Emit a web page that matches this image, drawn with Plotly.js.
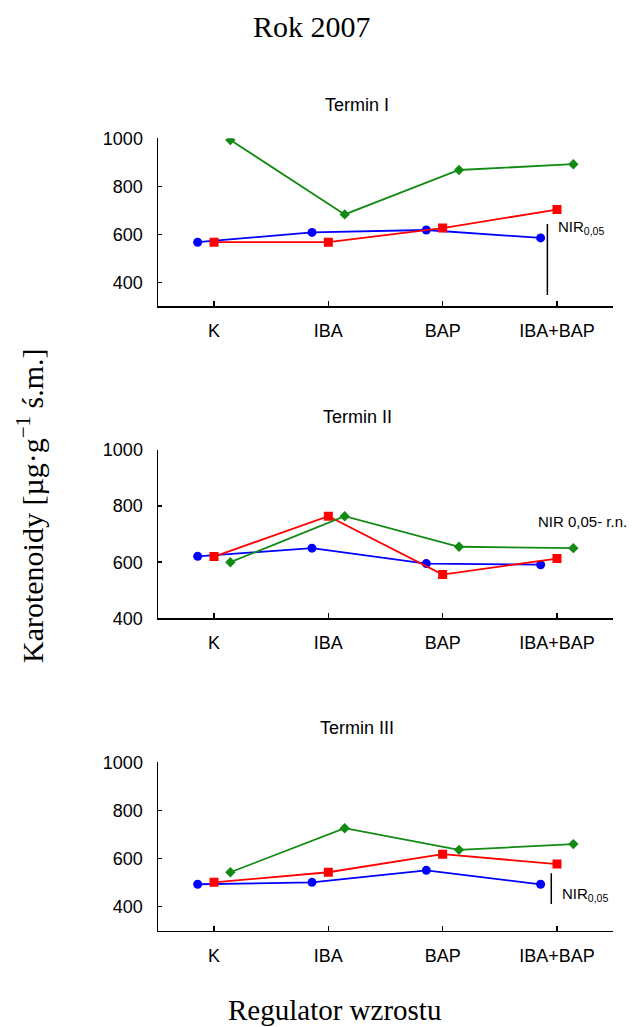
<!DOCTYPE html>
<html>
<head>
<meta charset="utf-8">
<script src="https://cdn.plot.ly/plotly-3.0.1.min.js"></script>
<style>html,body{margin:0;padding:0;background:#fff;}#chart{width:635px;height:1027px;}</style>
</head>
<body>
<div id="chart"></div>
<script>
// ---- data ----
const categories = ['K', 'IBA', 'BAP', 'IBA+BAP'];
const termTitles = ['Termin I', 'Termin II', 'Termin III'];
const t1Blue  = [567, 608, 618, 585];
const t1Red   = [567, 567, 626, 703];
const t1Green = [993, 683, 868, 892];
const t2Blue  = [621, 650, 595, 591];
const t2Red   = [620, 764, 556, 613];
const t2Green = [600, 764, 655, 650];
const t3Blue  = [493, 501, 551, 493];
const t3Red   = [501, 543, 618, 577];
const t3Green = [543, 726, 636, 660];
const nir1 = [347, 643];   // NIR bar ends, Termin I
const nir3 = [411, 539];   // NIR bar ends, Termin III
const yTicks = [400, 600, 800, 1000];

// ---- styling / layout helpers ----
const W = 635, H = 1027;
const px = v => v / W;
const py = v => 1 - v / H;
const offs = [-0.143, 0, 0.143];
const colors = ['#0000ff', '#ff0000', '#138a13'];
const symbols = ['circle', 'square', 'diamond'];
const sizes = [9, 9, 8];
const panels = [
  {blue: t1Blue, red: t1Red, green: t1Green, range: [300, 1000], top: 138.3, bot: 306.3},
  {blue: t2Blue, red: t2Red, green: t2Green, range: [400, 1000], top: 450, bot: 618.3},
  {blue: t3Blue, red: t3Red, green: t3Green, range: [300, 1000], top: 762.3, bot: 930.7}
];

const traces = [];
panels.forEach((p, i) => {
  const ax = i === 0 ? '' : String(i + 1);
  [p.blue, p.red, p.green].forEach((vals, s) => {
    traces.push({
      type: 'scatter', mode: 'lines+markers',
      x: categories.map((c, k) => k + offs[s]),
      y: vals,
      xaxis: 'x' + ax, yaxis: 'y' + ax,
      line: {color: colors[s], width: 1.8},
      marker: {color: colors[s], symbol: symbols[s], size: sizes[s]},
      hoverinfo: 'skip', showlegend: false
    });
  });
});
// NIR bars
traces.push({type: 'scatter', mode: 'lines', x: [2.916, 2.916], y: nir1, xaxis: 'x', yaxis: 'y',
  line: {color: '#000', width: 1.5}, showlegend: false, hoverinfo: 'skip'});
traces.push({type: 'scatter', mode: 'lines', x: [2.95, 2.95], y: nir3, xaxis: 'x3', yaxis: 'y3',
  line: {color: '#000', width: 1.5}, showlegend: false, hoverinfo: 'skip'});

const tickFont = {family: 'Liberation Sans, Arial, sans-serif', size: 18, color: '#000'};
const layout = {
  width: W, height: H,
  margin: {l: 0, r: 0, t: 0, b: 0},
  paper_bgcolor: '#fff', plot_bgcolor: '#fff',
  showlegend: false,
  annotations: [],
};
panels.forEach((p, i) => {
  const ax = i === 0 ? '' : String(i + 1);
  layout['xaxis' + ax] = {
    domain: [px(158), px(613)], range: [-0.49, 3.49],
    anchor: 'y' + ax,
    tickvals: categories.map((c, k) => k), ticktext: categories,
    ticks: 'inside', ticklen: 5, tickwidth: 1.5, tickcolor: '#000',
    showline: true, linecolor: '#000', linewidth: 1.5,
    showgrid: false, zeroline: false, tickfont: tickFont, ticklabelstandoff: 8,
    fixedrange: true
  };
  layout['yaxis' + ax] = {
    domain: [py(p.bot), py(p.top)], range: p.range,
    anchor: 'x' + ax,
    tickvals: yTicks, ticktext: yTicks.map(String),
    ticks: 'inside', ticklen: 4, tickwidth: 1.5, tickcolor: '#000',
    showline: true, linecolor: '#000', linewidth: 1.5,
    showgrid: false, zeroline: false, tickfont: tickFont, ticklabelstandoff: 10,
    fixedrange: true
  };
});

const serif = 'Liberation Serif, Times New Roman, serif';
const sans = 'Liberation Sans, Arial, sans-serif';
const ann = (text, x, y, opts) => Object.assign({
  text: text, x: px(x), y: py(y), xref: 'paper', yref: 'paper',
  showarrow: false, xanchor: 'center', yanchor: 'middle'
}, opts);
layout.annotations.push(ann('Rok 2007', 312, 26, {font: {family: serif, size: 30, color: '#000'}}));
layout.annotations.push(ann('Regulator wzrostu', 334, 1010, {font: {family: serif, size: 29, color: '#000'}}));
layout.annotations.push(ann('Karotenoidy [µg·g<sup>−1</sup> ś.m.]', 30, 506, {textangle: -90, font: {family: serif, size: 30, color: '#000'}}));
const termY = [105, 417, 728];
termTitles.forEach((t, i) => layout.annotations.push(ann(t, 357, termY[i], {font: {family: sans, size: 18, color: '#000'}})));
layout.annotations.push(ann('NIR<sub>0,05</sub>', 556, 228, {xanchor: 'left', font: {family: sans, size: 15, color: '#000'}}));
layout.annotations.push(ann('NIR<sub>0,05</sub>', 560, 894, {xanchor: 'left', font: {family: sans, size: 15, color: '#000'}}));
layout.annotations.push(ann('NIR 0,05- r.n.', 536, 521, {xanchor: 'left', font: {family: sans, size: 15, color: '#000'}}));

Plotly.newPlot('chart', traces, layout, {staticPlot: true, displayModeBar: false});
</script>
</body>
</html>
